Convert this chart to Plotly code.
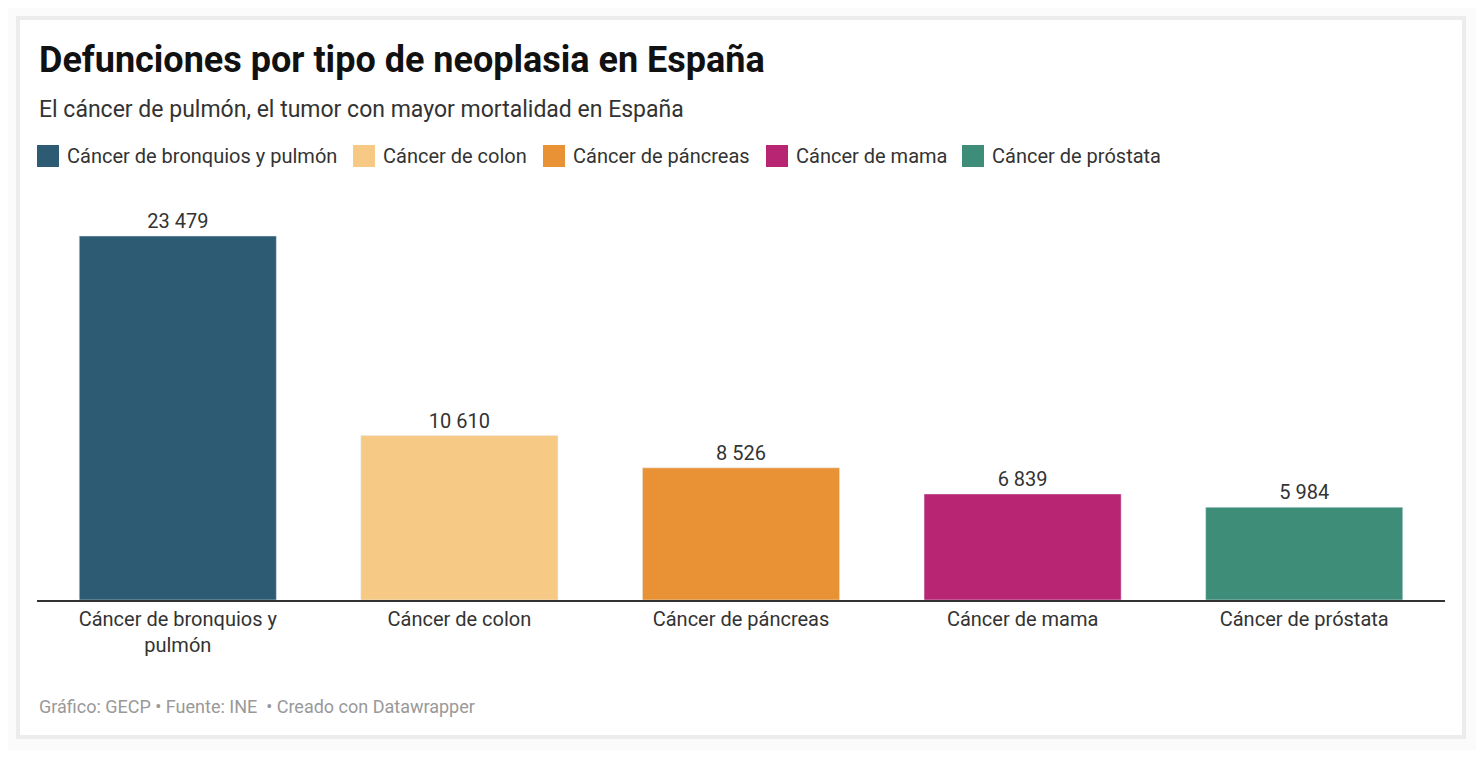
import plotly.graph_objects as go

categories = ["Cáncer de bronquios y pulmón", "Cáncer de colon", "Cáncer de páncreas",
              "Cáncer de mama", "Cáncer de próstata"]
tick_labels = ["Cáncer de bronquios y<br>pulmón", "Cáncer de colon", "Cáncer de páncreas",
               "Cáncer de mama", "Cáncer de próstata"]
values = [23479, 10610, 8526, 6839, 5984]
colors = ["#2d5b73", "#f6ca84", "#e99235", "#b82572", "#3d8d78"]

OFF = 8  # page body margin
W, H = 1468, 742
L, R, T, B = 37 - OFF, W - (1445 - OFF), 195 - OFF, H - (600 - OFF)
pw, ph = W - L - R, H - T - B
def px(x): return (x - OFF - L) / pw
def py(y): return (H - B - (y - OFF)) / ph

fig = go.Figure(go.Bar(
    x=tick_labels, y=values, marker_color=colors,
    text=[f"{v:,}".replace(",", " ") for v in values], textposition="outside",
    textfont=dict(size=20, color="#333"), cliponaxis=False, width=0.7, showlegend=False))

shapes = [
    dict(type="rect", xref="paper", yref="paper", x0=px(16), x1=px(1466), y0=py(739), y1=py(16),
         fillcolor="#ececec", line_width=0, layer="below"),
    dict(type="rect", xref="paper", yref="paper", x0=px(20), x1=px(1462), y0=py(735), y1=py(20),
         fillcolor="white", line_width=0, layer="below"),
]
annotations = [
    dict(text="<b>Defunciones por tipo de neoplasia en España</b>", x=px(37), y=py(60),
         font=dict(size=36, color="#111")),
    dict(text="El cáncer de pulmón, el tumor con mayor mortalidad en España", x=px(37), y=py(110),
         font=dict(size=23, color="#333")),
    dict(text="Gráfico: GECP • Fuente: INE  • Creado con Datawrapper", x=px(37), y=py(706),
         font=dict(size=18, color="#999")),
]
leg_x = [37, 353, 543, 766, 962]
for lx, c, name in zip(leg_x, colors, categories):
    shapes.append(dict(type="rect", xref="paper", yref="paper", x0=px(lx), x1=px(lx + 22),
                       y0=py(167), y1=py(145), fillcolor=c, line_width=0))
    annotations.append(dict(text=name, x=px(lx + 28), y=py(156), font=dict(size=20, color="#333")))
for a in annotations:
    a.update(xref="paper", yref="paper", xanchor="left", yanchor="middle", showarrow=False)

fig.update_layout(
    width=W, height=H, margin=dict(l=L, r=R, t=T, b=B),
    paper_bgcolor="#fbfbfb", plot_bgcolor="white",
    font=dict(family="Roboto", color="#333"),
    shapes=shapes, annotations=annotations, bargap=0.3,
    xaxis=dict(showline=True, linecolor="#333", linewidth=1.5, tickfont=dict(size=20, color="#333"),
               ticks="", fixedrange=True),
    yaxis=dict(range=[0, 26125], visible=False, showgrid=False),
)
fig.write_html("out.html")
